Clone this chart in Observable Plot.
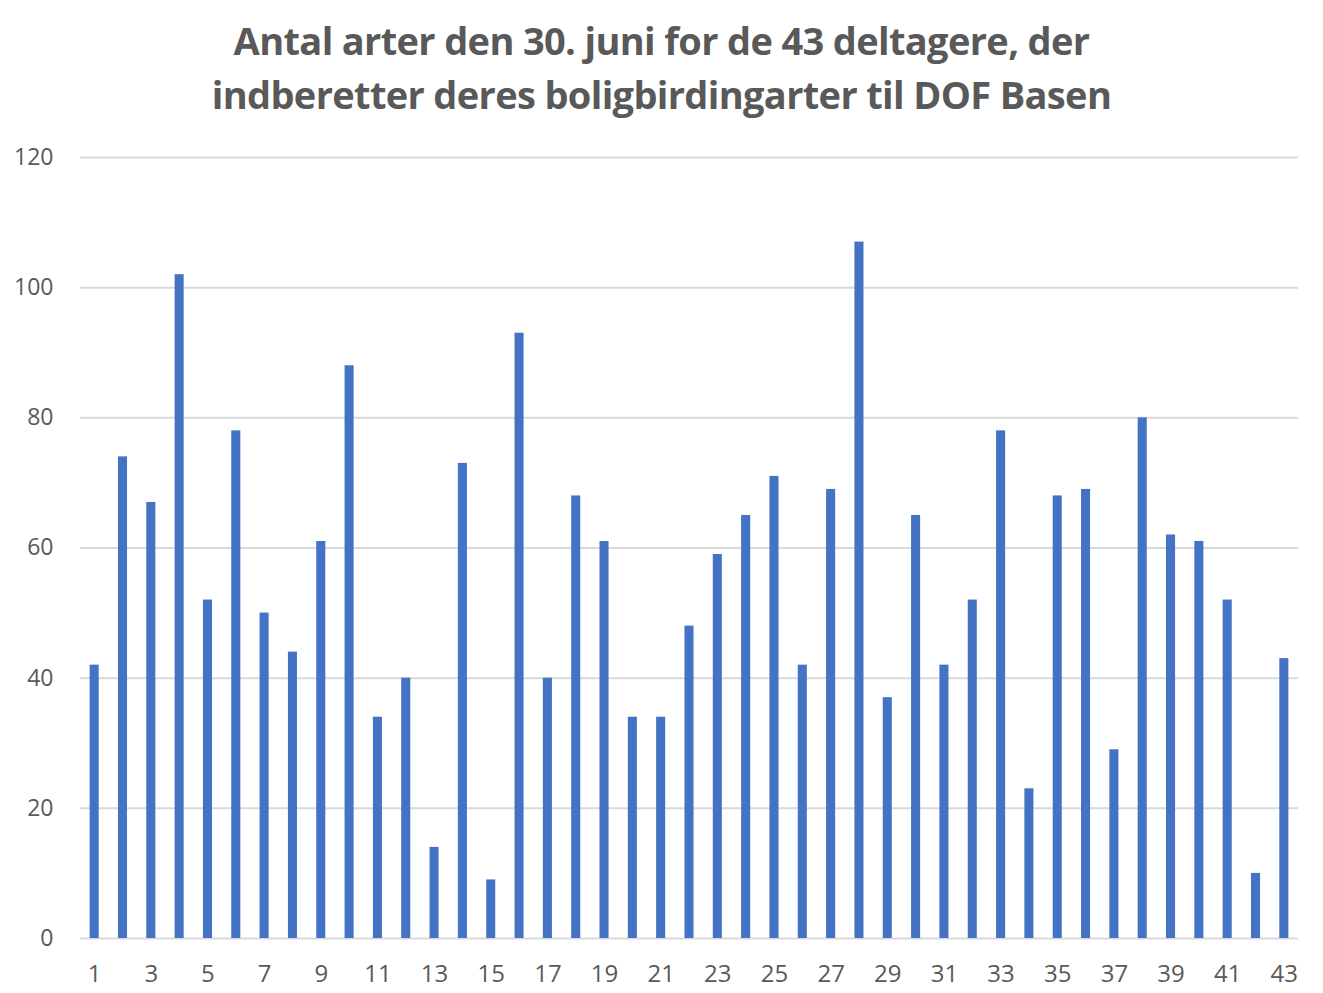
<!DOCTYPE html>
<html>
<head>
<meta charset="utf-8">
<script src="https://cdn.jsdelivr.net/npm/d3@7"></script>
<script src="https://cdn.jsdelivr.net/npm/@observablehq/plot@0.6"></script>
<style>
  html, body { margin: 0; padding: 0; background: #fff; }
  #title {
    width: 1323px; height: 130px; box-sizing: border-box;
    padding-top: 13px;
    text-align: center; color: #595959;
    font-family: "Open Sans", sans-serif; font-weight: 700;
    font-size: 38px; line-height: 54px; letter-spacing: -0.65px;
    white-space: nowrap;
  }
</style>
</head>
<body>
<div id="title">Antal arter den 30. juni for de 43 deltagere, der<br>indberetter deres boligbirdingarter til DOF Basen</div>
<div id="chart"></div>
<script>
const participants = d3.range(1, 44);
const speciesCounts = [42, 74, 67, 102, 52, 78, 50, 44, 61, 88, 34, 40, 14, 73, 9, 93, 40, 68, 61, 34, 34, 48, 59, 65, 71, 42, 69, 107, 37, 65, 42, 52, 78, 23, 68, 69, 29, 80, 62, 61, 52, 10, 43];
const yTicks = [0, 20, 40, 60, 80, 100, 120];
const xTicks = participants.filter(d => d % 2 === 1);

const data = participants.map((p, i) => ({p, v: speciesCounts[i]}));

const chart = Plot.plot({
  width: 1323,
  height: 863,
  marginTop: 27,
  marginBottom: 55,
  marginLeft: 80,
  marginRight: 25,
  style: {fontFamily: "'Open Sans', sans-serif", color: "#595959", background: "#fff"},
  x: {type: "band", domain: participants, paddingInner: 0.68, paddingOuter: 0.34, round: false, label: null},
  y: {domain: [0, 120], label: null},
  marks: [
    Plot.ruleY(yTicks, {stroke: "#d9d9d9", strokeWidth: 2}),
    Plot.barY(data, {x: "p", y: "v", fill: "#4472C4"}),
    Plot.axisY(yTicks, {tickSize: 0, tickPadding: 27, fontSize: 23, fill: "#595959", label: null}),
    Plot.axisX(xTicks, {tickSize: 0, tickPadding: 26, fontSize: 24, fill: "#595959", label: null})
  ]
});
document.getElementById("chart").appendChild(chart);
</script>
</body>
</html>
